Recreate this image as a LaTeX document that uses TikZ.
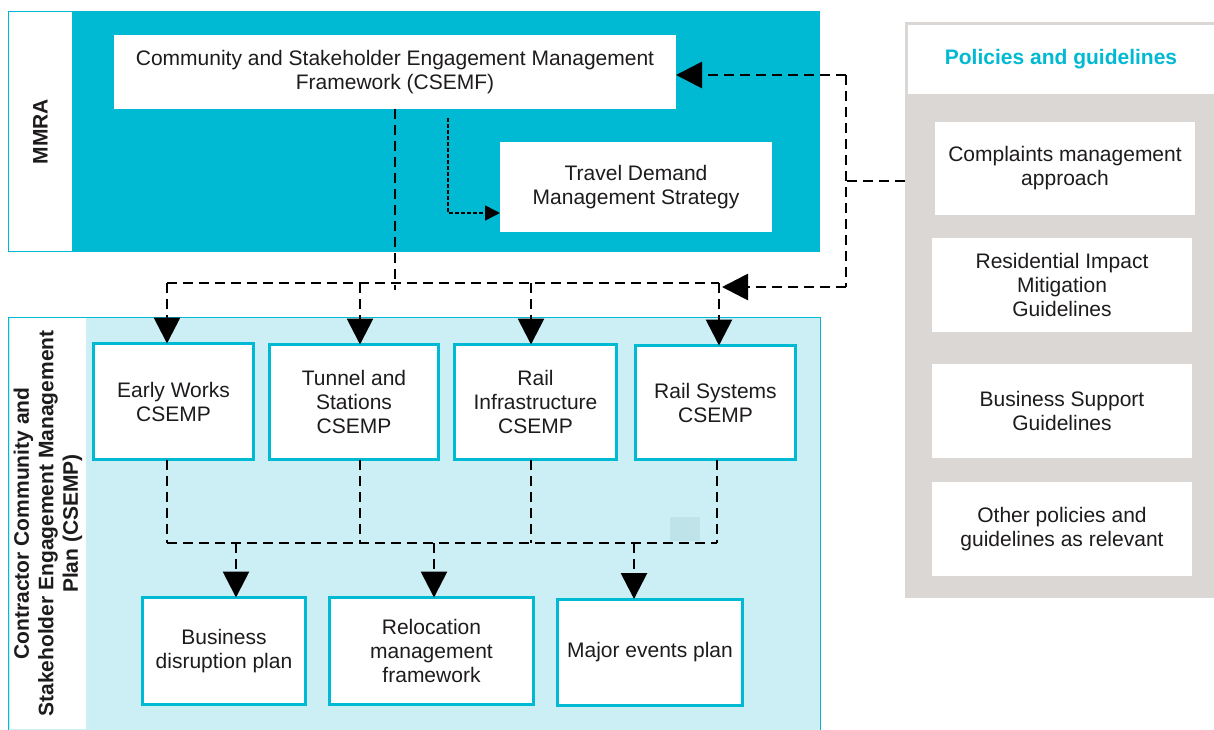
\documentclass[tikz,border=0pt]{standalone}
\usepackage{fontspec}
\setmainfont{Liberation Sans}
\usetikzlibrary{arrows.meta,calc}
\definecolor{cy}{RGB}{0,185,211}
\definecolor{lcy}{RGB}{204,239,245}
\definecolor{gr}{RGB}{219,215,212}
\definecolor{tx}{RGB}{30,27,28}
\definecolor{art}{RGB}{190,228,234}
\begin{document}
\begin{tikzpicture}[x=1pt,y=-1pt,
  every node/.style={font=\fontsize{21}{24}\selectfont, text=tx, align=center, inner sep=0pt, outer sep=0pt},
  plainbox/.style={fill=white},
  cybox/.style={fill=white, draw=cy, line width=3pt},
  dline/.style={draw=black, line width=2.8pt, dash pattern=on 10pt off 6pt},
  darrow/.style={dline, -{Triangle[length=26pt,width=26pt]}},
  farrow/.style={draw=black, line width=1.6pt, dash pattern=on 3.5pt off 2.5pt, -{Triangle[length=15pt,width=15pt]}},
  boldtxt/.style={font=\fontsize{21}{24.5}\selectfont\bfseries}
]
\useasboundingbox (0,0) rectangle (1214,729);
% MMRA band
\fill[cy] (8,11) rectangle (820,252);
\node[plainbox, rotate=90, minimum width=239, minimum height=63, boldtxt] (mmra) at (40.5,131.5) {MMRA};
\node[plainbox, minimum width=562, minimum height=74] (csemf) at (395,72) {Community and Stakeholder Engagement Management\\Framework (CSEMF)};
\node[plainbox, minimum width=272, minimum height=90] (tdms) at (636,187) {Travel Demand\\Management Strategy};
% CSEMP band
\filldraw[fill=lcy, draw=cy, line width=1pt] (8,317) rectangle (820,740);
\fill[art] (670,517) rectangle (700,541);
\node[plainbox, rotate=90, minimum width=411, minimum height=76, boldtxt] (csemp) at (48,523.5) {Contractor Community and\\Stakeholder Engagement Management\\Plan (CSEMP)};
\node[cybox, minimum width=160, minimum height=116] (early) at (173.5,401.5) {Early Works\\CSEMP};
\node[cybox, minimum width=169, minimum height=115] (tunnel) at (354,402) {Tunnel and\\Stations\\CSEMP};
\node[cybox, minimum width=162, minimum height=115] (rinfra) at (535.5,402) {Rail\\Infrastructure\\CSEMP};
\node[cybox, minimum width=160, minimum height=114] (rsys) at (715.5,402.5) {Rail Systems\\CSEMP};
\node[cybox, minimum width=163, minimum height=107] (bdp) at (224,651) {Business\\disruption plan};
\node[cybox, minimum width=204, minimum height=107] (rmf) at (431.5,651) {Relocation\\management\\framework};
\node[cybox, minimum width=185, minimum height=106] (mep) at (650,652) {Major events plan};
% Policies panel
\node[fill=gr, minimum width=309, minimum height=576, anchor=north west] (pol) at (905,22) {};
\node[plainbox, minimum width=306, minimum height=69, boldtxt, text=cy] (polh) at (1061,59.5) {Policies and guidelines};
\node[plainbox, minimum width=260, minimum height=93] (cma) at (1065,168.5) {Complaints management\\approach};
\node[plainbox, minimum width=260, minimum height=94] (rimg) at (1062,285) {Residential Impact\\Mitigation\\Guidelines};
\node[plainbox, minimum width=260, minimum height=94] (bsg) at (1062,411) {Business Support\\Guidelines};
\node[plainbox, minimum width=260, minimum height=94] (opg) at (1062,529) {Other policies and\\guidelines as relevant};
% coordinates
\coordinate (j0) at (395,283);
\coordinate (b1) at (167,283);
\coordinate (b2) at (360,283);
\coordinate (b3) at (531,283);
\coordinate (b4) at (719,283);
\coordinate (d1) at (448,213);
\coordinate (r0) at (846,181);
\coordinate (rtop) at (846,75);
\coordinate (rbot) at (846,287);
\coordinate (rend) at (722,287);
\coordinate (c1) at (167,543);
\coordinate (c2) at (360,543);
\coordinate (c3) at (531,543);
\coordinate (c4) at (717,543);
\coordinate (e1) at (236,543);
\coordinate (e2) at (434,543);
\coordinate (e3) at (634,543);
% connectors top
\draw[dline] (csemf.south -| j0) -- ($(j0)+(0,7)$);
\draw[dline] (b1) -- (b4);
\draw[darrow] (b1) -- (b1 |- early.north);
\draw[darrow] (b2) -- (b2 |- tunnel.north);
\draw[darrow] (b3) -- (b3 |- rinfra.north);
\draw[darrow] (b4) -- (b4 |- rsys.north);
\draw[farrow] ($(csemf.south -| d1)+(0,9)$) -- (d1) -- (tdms.west |- d1);
\draw[dline] (pol.west |- r0) -- (r0);
\draw[dline] (rtop) -- (rbot);
\draw[darrow] (rtop) -- (csemf.east |- rtop);
\draw[darrow] (rbot) -- (rend);
% connectors bottom
\draw[dline] (early.south -| c1) -- (c1);
\draw[dline] (tunnel.south -| c2) -- (c2);
\draw[dline] (rinfra.south -| c3) -- (c3);
\draw[dline] (rsys.south -| c4) -- (c4);
\draw[dline] (c1) -- (c4);
\draw[darrow] (e1) -- (e1 |- bdp.north);
\draw[darrow] (e2) -- (e2 |- rmf.north);
\draw[darrow] (e3) -- (e3 |- mep.north);
\end{tikzpicture}
\end{document}
